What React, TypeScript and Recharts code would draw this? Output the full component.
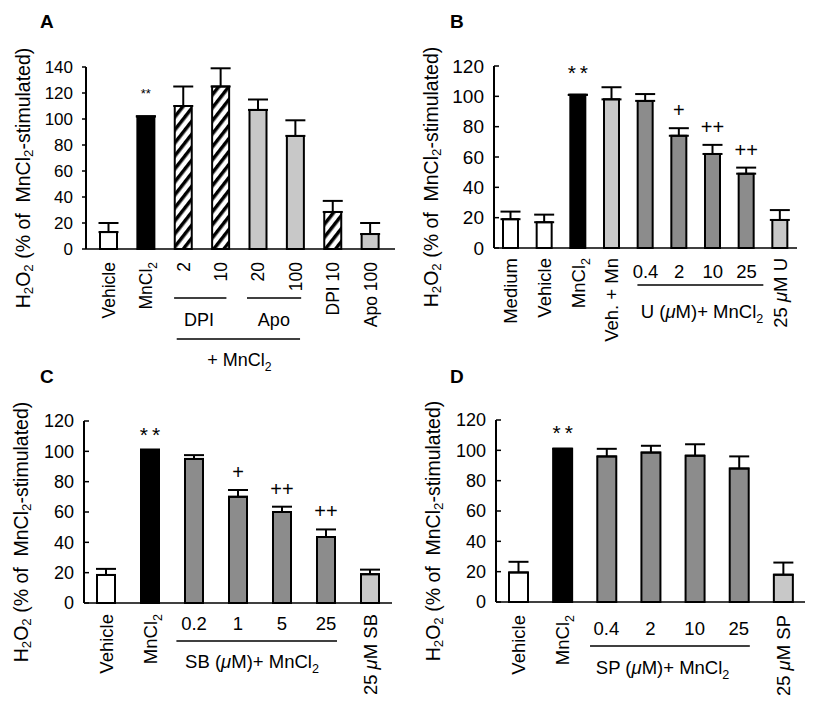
import React from "react";
import { BarChart, Bar, XAxis, YAxis, ErrorBar, Cell, LabelList } from "recharts";

const FONT = '"Liberation Sans", Arial, Helvetica, sans-serif';

// Panel A: DPI / apocynin
const aLabels = ["Vehicle", "MnCl_2", "2", "10", "20", "100", "DPI 10", "Apo 100"];
const aMeans = [13, 102, 110, 125, 107, 87, 28.5, 11.5];
const aSds = [7, 0, 15, 14, 8, 12, 8.5, 8.5];
const aKinds = ["open", "black", "hatch", "hatch", "light", "light", "hatch", "light"];
const aMarks = ["", "**", "", "", "", "", "", ""];
const aTicks = [0, 20, 40, 60, 80, 100, 120, 140];

// Panel B: U0126
const bLabels = ["Medium", "Vehicle", "MnCl_2", "Veh. + Mn", "0.4", "2", "10", "25", "25 μM U"];
const bMeans = [19, 17, 101, 98, 97, 74, 62, 49, 18.5];
const bSds = [5, 5, 0, 8, 4.5, 5, 6, 4, 6.5];
const bKinds = ["open", "open", "black", "light", "dark", "dark", "dark", "dark", "light"];
const bMarks = ["", "", "**", "", "", "+", "++", "++", ""];

// Panel C: SB203580
const cLabels = ["Vehicle", "MnCl_2", "0.2", "1", "5", "25", "25 μM SB"];
const cMeans = [18.5, 101, 95, 70, 60, 43.5, 19];
const cSds = [4, 0, 2.5, 4.5, 3.5, 5, 3];
const cKinds = ["open", "black", "dark", "dark", "dark", "dark", "light"];
const cMarks = ["", "**", "", "+", "++", "++", ""];

// Panel D: SP600125
const dLabels = ["Vehicle", "MnCl_2", "0.4", "2", "10", "25", "25 μM SP"];
const dMeans = [19.5, 101, 96, 98.5, 96.5, 88, 18];
const dSds = [7, 0, 5, 4.5, 7.5, 8, 8];
const dKinds = ["open", "black", "dark", "dark", "dark", "dark", "light"];
const dMarks = ["", "**", "", "", "", "", ""];

const bcdTicks = [0, 20, 40, 60, 80, 100, 120];

const FILLS: Record<string, string> = {
  open: "#ffffff",
  black: "#000000",
  hatch: "url(#hatch)",
  light: "#c8c8c8",
  dark: "#8c8c8c",
};

type Group = {
  from: number;
  to: number;
  label: string;
  lineDy: number;
  textDy: number;
  inL: number;
  inR: number;
  dx: number;
};

type Panel = {
  letter: string;
  left: number;
  top: number;
  width: number;
  height: number;
  margin: { top: number; right: number; bottom: number; left: number };
  yWidth: number;
  xHeight: number;
  padL: number;
  padR: number;
  labels: string[];
  means: number[];
  sds: number[];
  kinds: string[];
  marks: string[];
  ticks: number[];
  barSize: number;
  tickSize: number;
  tickMargin: number;
  tickFont: number;
  catFont: number;
  groupFont: number;
  flatDoses: boolean;
  rotTop: number;
  doseDy: number;
  starSize: number;
  starLift: number;
  starSpacing: number;
  groups: Group[];
};

// turns "MnCl_2" into subscripts and italicises μ
function rich(s: string, size: number) {
  const parts = s.split(/(_\d|μ)/).filter((q) => q !== "");
  const out: React.ReactNode[] = [];
  let down = false;
  parts.forEach((q, i) => {
    if (q[0] === "_") {
      out.push(
        <tspan key={i} dy={size * 0.28} fontSize={size * 0.68}>
          {q.slice(1)}
        </tspan>
      );
      down = true;
    } else {
      out.push(
        <tspan key={i} dy={down ? -size * 0.28 : 0} fontStyle={q === "μ" ? "italic" : undefined}>
          {q}
        </tspan>
      );
      down = false;
    }
  });
  return out;
}

const panels: Panel[] = [
  {
    letter: "A",
    left: 0,
    top: 0,
    width: 410,
    height: 386,
    margin: { top: 67, right: 15, bottom: 3, left: 0 },
    yWidth: 86,
    xHeight: 134,
    padL: 4,
    padR: 6,
    labels: aLabels,
    means: aMeans,
    sds: aSds,
    kinds: aKinds,
    marks: aMarks,
    ticks: aTicks,
    barSize: 17,
    tickSize: 4,
    tickMargin: 9,
    tickFont: 17,
    catFont: 17.5,
    groupFont: 18,
    flatDoses: false,
    rotTop: 13,
    doseDy: 0,
    starSize: 13,
    starLift: 18,
    starSpacing: 0,
    groups: [
      { from: 2, to: 3, label: "DPI", lineDy: 49, textDy: 77, inL: 0.25, inR: 0.15, dx: -3 },
      { from: 4, to: 5, label: "Apo", lineDy: 49, textDy: 77, inL: 0.3, inR: 0.15, dx: -3 },
      { from: 2, to: 5, label: "+ MnCl_2", lineDy: 90, textDy: 117, inL: 0.18, inR: 0.12, dx: 0 },
    ],
  },
  {
    letter: "B",
    left: 410,
    top: 0,
    width: 410,
    height: 350,
    margin: { top: 66, right: 23, bottom: 2, left: 0 },
    yWidth: 84,
    xHeight: 100,
    padL: 0,
    padR: 0,
    labels: bLabels,
    means: bMeans,
    sds: bSds,
    kinds: bKinds,
    marks: bMarks,
    ticks: bcdTicks,
    barSize: 15,
    tickSize: -5,
    tickMargin: 15,
    tickFont: 19,
    catFont: 18.5,
    groupFont: 18.5,
    flatDoses: true,
    rotTop: 10,
    doseDy: 30,
    starSize: 21,
    starLift: 15,
    starSpacing: 4,
    groups: [
      { from: 4, to: 7, label: "U (μM)+ MnCl_2", lineDy: 37, textDy: 70, inL: 0.24, inR: 0.5, dx: 6 },
    ],
  },
  {
    letter: "C",
    left: 0,
    top: 350,
    width: 410,
    height: 356,
    margin: { top: 71, right: 18, bottom: 3, left: 0 },
    yWidth: 84,
    xHeight: 100,
    padL: 0,
    padR: 0,
    labels: cLabels,
    means: cMeans,
    sds: cSds,
    kinds: cKinds,
    marks: cMarks,
    ticks: bcdTicks,
    barSize: 18,
    tickSize: -5,
    tickMargin: 15,
    tickFont: 18,
    catFont: 18.5,
    groupFont: 18.5,
    flatDoses: true,
    rotTop: 11,
    doseDy: 27,
    starSize: 21,
    starLift: 8,
    starSpacing: 4,
    groups: [
      { from: 2, to: 5, label: "SB (μM)+ MnCl_2", lineDy: 38, textDy: 65, inL: 0.4, inR: 0.25, dx: -8 },
    ],
  },
  {
    letter: "D",
    left: 410,
    top: 350,
    width: 410,
    height: 356,
    margin: { top: 70, right: 15, bottom: 4, left: 0 },
    yWidth: 86,
    xHeight: 100,
    padL: 0,
    padR: 0,
    labels: dLabels,
    means: dMeans,
    sds: dSds,
    kinds: dKinds,
    marks: dMarks,
    ticks: bcdTicks,
    barSize: 19,
    tickSize: -5,
    tickMargin: 15,
    tickFont: 18,
    catFont: 18.5,
    groupFont: 18.5,
    flatDoses: true,
    rotTop: 13,
    doseDy: 33,
    starSize: 21,
    starLift: 9,
    starSpacing: 4,
    groups: [
      { from: 2, to: 5, label: "SP (μM)+ MnCl_2", lineDy: 44, textDy: 72, inL: 0.37, inR: 0.25, dx: -10 },
    ],
  },
];

function bandWidth(p: Panel) {
  const plot = p.width - p.margin.left - p.margin.right - p.yWidth;
  return (plot - p.padL - p.padR) / p.labels.length;
}

function XTick(props: any) {
  const { x, y, payload, panel } = props;
  const p: Panel = panel;
  const i = payload.index;
  const label = p.labels[i];
  const bw = bandWidth(p);
  const flat = p.flatDoses && /^[\d.]+$/.test(label);
  const half = p.catFont * 0.36;
  return (
    <g fontFamily={FONT} fill="#000">
      {flat ? (
        <text x={x} y={y + p.doseDy} textAnchor="middle" fontSize={p.catFont}>
          {label}
        </text>
      ) : (
        <text
          transform={`translate(${x + half},${y + p.rotTop}) rotate(-90)`}
          textAnchor="end"
          fontSize={p.catFont}
        >
          {rich(label, p.catFont)}
        </text>
      )}
      {p.groups
        .filter((g) => g.from === i)
        .map((g, k) => {
          const c2 = x + (g.to - g.from) * bw;
          return (
            <g key={k}>
              <line
                x1={x - g.inL * bw}
                x2={c2 + g.inR * bw}
                y1={y + g.lineDy}
                y2={y + g.lineDy}
                stroke="#000"
                strokeWidth={1.5}
              />
              <text
                x={(x + c2) / 2 + g.dx}
                y={y + g.textDy}
                textAnchor="middle"
                fontSize={p.groupFont}
              >
                {rich(g.label, p.groupFont)}
              </text>
            </g>
          );
        })}
    </g>
  );
}

function YTitle(props: any) {
  const vb = props.viewBox || {};
  const cx = vb.x + vb.width - 63;
  const cy = vb.y + vb.height / 2 + 20;
  return (
    <text
      transform={`translate(${cx},${cy}) rotate(-90)`}
      textAnchor="middle"
      dominantBaseline="central"
      fontSize={19.5}
      fontFamily={FONT}
      fill="#000"
      style={{ whiteSpace: "pre" }}
    >
      {rich("H_2O_2 (% of  MnCl_2-stimulated)", 19.5)}
    </text>
  );
}

function MarkLabel(props: any) {
  const { x, y, width, height, index, panel } = props;
  const p: Panel = panel;
  const m = p.marks[index];
  if (!m) return null;
  const pxPer = height / p.means[index];
  const top = y - p.sds[index] * pxPer;
  const star = m === "**";
  return (
    <text
      x={x + width / 2 + (star ? p.starSpacing / 2 : 0)}
      y={top - (star ? p.starLift : 11)}
      textAnchor="middle"
      fontSize={star ? p.starSize : 20}
      fontFamily={FONT}
      letterSpacing={star ? p.starSpacing : 0}
      fill="#000"
    >
      {m}
    </text>
  );
}

function PanelChart({ p }: { p: Panel }) {
  const rows = p.labels.map((name, i) => ({
    name,
    mean: p.means[i],
    err: [0, p.sds[i]],
  }));
  const yMax = p.ticks[p.ticks.length - 1];
  return (
    <div style={{ position: "absolute", left: p.left, top: p.top }}>
      <BarChart width={p.width} height={p.height} data={rows} margin={p.margin}>
        <XAxis
          dataKey="name"
          type="category"
          height={p.xHeight}
          interval={0}
          tickLine={false}
          tickSize={0}
          tickMargin={0}
          padding={{ left: p.padL, right: p.padR }}
          axisLine={{ stroke: "#000", strokeWidth: 1.5 }}
          tick={(props: any) => <XTick {...props} panel={p} />}
        />
        <YAxis
          type="number"
          domain={[0, yMax]}
          ticks={p.ticks}
          interval={0}
          width={p.yWidth}
          tickSize={p.tickSize}
          tickMargin={p.tickMargin}
          axisLine={{ stroke: "#000", strokeWidth: 2 }}
          tickLine={{ stroke: "#000", strokeWidth: 1.5 }}
          tick={{ fill: "#000", fontSize: p.tickFont, fontFamily: FONT }}
          label={{ content: (props: any) => <YTitle {...props} /> }}
        />
        <Bar
          dataKey="mean"
          barSize={p.barSize}
          stroke="#000"
          strokeWidth={2}
          isAnimationActive={false}
        >
          {rows.map((_, i) => (
            <Cell key={i} fill={FILLS[p.kinds[i]]} />
          ))}
          <ErrorBar
            dataKey="err"
            width={10}
            stroke="#000"
            strokeWidth={2}
            direction="y"
            isAnimationActive={false}
          />
          <LabelList dataKey="mean" content={(props: any) => <MarkLabel {...props} panel={p} />} />
        </Bar>
      </BarChart>
    </div>
  );
}

export default function App() {
  return (
    <div
      style={{
        position: "absolute",
        left: 0,
        top: 0,
        width: 820,
        height: 706,
        background: "#fff",
        overflow: "hidden",
      }}
    >
      <svg width={0} height={0} style={{ position: "absolute" }}>
        <defs>
          <pattern
            id="hatch"
            width={8}
            height={8}
            patternUnits="userSpaceOnUse"
            patternTransform="rotate(38)"
          >
            <rect width={8} height={8} fill="#fff" />
            <rect x={0} y={0} width={3.5} height={8} fill="#000" />
          </pattern>
        </defs>
      </svg>
      {panels.map((p) => (
        <PanelChart key={p.letter} p={p} />
      ))}
      <svg
        width={820}
        height={706}
        style={{ position: "absolute", left: 0, top: 0, pointerEvents: "none" }}
      >
        {panels.map((p) => (
          <text
            key={p.letter}
            x={p.left + 40}
            y={p.top + (p.top === 0 ? 28 : 33)}
            fontSize={19}
            fontWeight="bold"
            fontFamily={FONT}
          >
            {p.letter}
          </text>
        ))}
      </svg>
    </div>
  );
}
